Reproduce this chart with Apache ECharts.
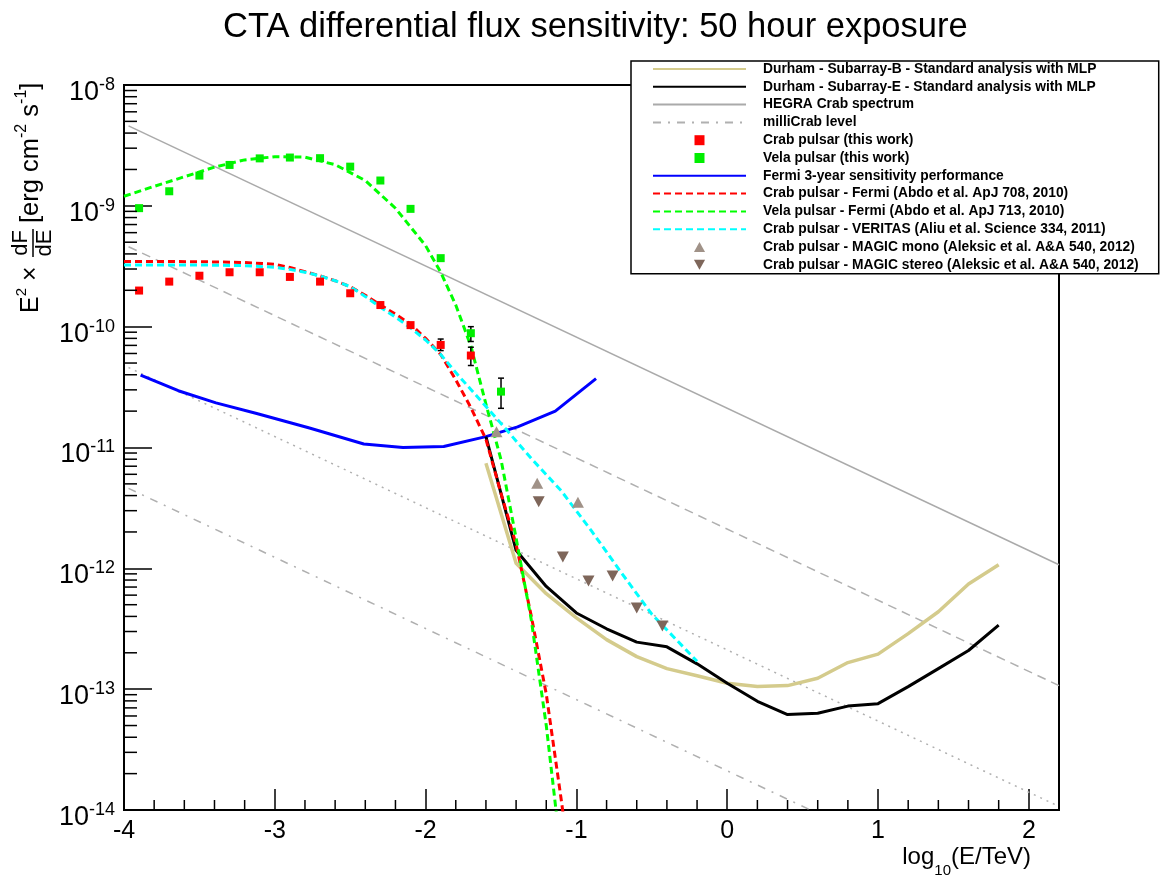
<!DOCTYPE html>
<html>
<head>
<meta charset="utf-8">
<title>CTA differential flux sensitivity</title>
<script src="https://cdn.jsdelivr.net/npm/echarts@6/dist/echarts.min.js"></script>
<style>
html, body { margin: 0; padding: 0; background: #fff; }
#main { width: 1168px; height: 882px; }
</style>
</head>
<body>
<div id="main"></div>
<script>
var FONT = "'Liberation Sans', Arial, Helvetica, sans-serif";

// x = log10(E/TeV), y = E^2 dF/dE [erg cm^-2 s^-1]
// Crab / Vela pulsar points (this work)
var pulsarX = [-3.9, -3.7, -3.5, -3.3, -3.1, -2.9, -2.7, -2.5, -2.3, -2.1, -1.9, -1.7];
var crabFlux = [1.99e-10, 2.36e-10, 2.64e-10, 2.82e-10, 2.82e-10, 2.58e-10, 2.36e-10, 1.89e-10, 1.51e-10, 1.03e-10, 7.06e-11, 5.77e-11];
var velaX = [-3.9, -3.7, -3.5, -3.3, -3.1, -2.9, -2.7, -2.5, -2.3, -2.1, -1.9, -1.7, -1.5];
var velaFlux = [9.57e-10, 1.32e-9, 1.78e-9, 2.18e-9, 2.47e-9, 2.51e-9, 2.48e-9, 2.11e-9, 1.62e-9, 9.44e-10, 3.69e-10, 8.83e-11, 2.90e-11];
// error bars
var crabErrX = [-1.9, -1.7];
var crabErrLo = [6.34e-11, 4.77e-11];
var crabErrHi = [7.90e-11, 6.76e-11];
var velaErrX = [-1.7, -1.5];
var velaErrLo = [7.54e-11, 2.11e-11];
var velaErrHi = [1.00e-10, 3.75e-11];

// Fermi / VERITAS spectra
var fermiCrabX = [-4.0, -3.5, -3.2, -3.0, -2.9, -2.8, -2.7, -2.6, -2.5, -2.4, -2.3, -2.2, -2.1, -2.0, -1.9, -1.8, -1.7, -1.6, -1.5, -1.4, -1.3, -1.2, -1.1, -1.07];
var fermiCrabFlux = [3.47e-10, 3.45e-10, 3.40e-10, 3.28e-10, 3.09e-10, 2.85e-10, 2.63e-10, 2.40e-10, 2.14e-10, 1.82e-10, 1.51e-10, 1.27e-10, 1.05e-10, 8.00e-11, 5.89e-11, 3.63e-11, 2.14e-11, 1.17e-11, 4.17e-12, 1.58e-12, 4.07e-13, 9.12e-14, 1.20e-14, 6.30e-15];
var fermiVelaX = [-4.0, -3.8, -3.6, -3.4, -3.2, -3.0, -2.8, -2.6, -2.4, -2.2, -2.0, -1.9, -1.8, -1.7, -1.6, -1.5, -1.4, -1.3, -1.2, -1.14, -1.1];
var fermiVelaFlux = [1.20e-9, 1.45e-9, 1.74e-9, 2.09e-9, 2.40e-9, 2.55e-9, 2.53e-9, 2.19e-9, 1.62e-9, 9.55e-10, 4.68e-10, 2.82e-10, 1.51e-10, 6.92e-11, 2.29e-11, 7.94e-12, 1.78e-12, 3.80e-13, 5.01e-14, 1.12e-14, 4.0e-15];
var veritasX = [-4.0, -3.5, -3.2, -3.0, -2.9, -2.8, -2.7, -2.6, -2.5, -2.4, -2.3, -2.2, -2.1, -2.0, -1.9, -1.8, -1.7, -1.5, -1.3, -1.1, -0.9, -0.7, -0.5, -0.2];
var veritasFlux = [3.24e-10, 3.24e-10, 3.20e-10, 3.10e-10, 2.98e-10, 2.82e-10, 2.63e-10, 2.40e-10, 2.14e-10, 1.78e-10, 1.45e-10, 1.20e-10, 9.77e-11, 7.76e-11, 5.89e-11, 4.17e-11, 3.02e-11, 1.58e-11, 8.13e-12, 4.37e-12, 2.04e-12, 9.12e-13, 4.17e-13, 1.70e-13];

// Fermi 3-year sensitivity
var fermiSensX = [-3.89, -3.64, -3.39, -3.12, -2.77, -2.41, -2.15, -1.88, -1.60, -1.39, -1.14, -0.87];
var fermiSensFlux = [3.98e-11, 2.95e-11, 2.34e-11, 1.91e-11, 1.45e-11, 1.07e-11, 1.00e-11, 1.02e-11, 1.23e-11, 1.48e-11, 2.00e-11, 3.72e-11];

// Durham sensitivities
var durhamX = [-1.6, -1.4, -1.2, -1.0, -0.8, -0.6, -0.4, -0.2, 0.0, 0.2, 0.4, 0.6, 0.8, 1.0, 1.2, 1.4, 1.6, 1.8];
var subBFlux = [7.41e-12, 1.10e-12, 6.17e-13, 3.89e-13, 2.57e-13, 1.86e-13, 1.48e-13, 1.29e-13, 1.12e-13, 1.05e-13, 1.07e-13, 1.23e-13, 1.66e-13, 1.95e-13, 2.88e-13, 4.37e-13, 7.41e-13, 1.07e-12];
var subEFlux = [1.23e-11, 1.41e-12, 7.08e-13, 4.27e-13, 3.16e-13, 2.45e-13, 2.24e-13, 1.62e-13, 1.12e-13, 7.94e-14, 6.17e-14, 6.31e-14, 7.24e-14, 7.59e-14, 1.05e-13, 1.48e-13, 2.09e-13, 3.39e-13];

// MAGIC
var monoX = [-1.53, -1.26, -0.99];
var monoFlux = [1.35e-11, 5.06e-12, 3.52e-12];
var stereoX = [-1.25, -1.09, -0.92, -0.76, -0.60, -0.43];
var stereoFlux = [3.56e-12, 1.24e-12, 7.87e-13, 8.65e-13, 4.70e-13, 3.33e-13];

// Crab reference levels (straight lines in log-log)
var crabRefX = [-3.97, 2.2];
var hegraFlux = [4.59e-9, 1.07e-12];
var tenthCrabFlux = [4.59e-10, 1.07e-13];
var hundredthCrabFlux = [4.59e-11, 1.07e-14];
var milliCrabFlux = [4.59e-12, 1.07e-15];

// axis ticks
var xMajorTicks = [-4, -3, -2, -1, 0, 1, 2];
var yDecades = [-14, -13, -12, -11, -10, -9, -8];

var SQUARE = 'path://M0,0L10,0L10,10L0,10Z';
var TRI_UP = 'path://M5,0L10,9L0,9Z';
var TRI_DOWN = 'path://M0,0L10,0L5,9Z';

function pts(xs, ys) {
    return xs.map(function (x, i) { return [x, ys[i]]; });
}
function errs(xs, lo, hi) {
    return xs.map(function (x, i) { return [x, lo[i], hi[i]]; });
}

var xMinor = [];
for (var i = 0; i < xMajorTicks.length - 1; i++) {
    for (var k = 1; k < 5; k++) xMinor.push([xMajorTicks[i] + k * 0.2, 1e-14]);
}
var yMinor = [];
for (var d = 0; d < yDecades.length - 1; d++) {
    for (var m = 2; m < 10; m++) yMinor.push([-4, m * Math.pow(10, yDecades[d])]);
}

function lineSeries(name, data, color, width, type, z) {
    return {
        name: name, type: 'line', data: data, symbol: 'none', z: z || 2,
        lineStyle: { color: color, width: width, type: type || 'solid', join: 'round' },
        itemStyle: { color: color }
    };
}

function renderErr(params, api) {
    var x = api.value(0);
    var lo = api.coord([x, api.value(1)]);
    var hi = api.coord([x, api.value(2)]);
    var st = { stroke: '#000', lineWidth: 1.5 };
    return {
        type: 'group', children: [
            { type: 'line', shape: { x1: lo[0], y1: lo[1], x2: hi[0], y2: hi[1] }, style: st },
            { type: 'line', shape: { x1: lo[0] - 3, y1: lo[1], x2: lo[0] + 3, y2: lo[1] }, style: st },
            { type: 'line', shape: { x1: hi[0] - 3, y1: hi[1], x2: hi[0] + 3, y2: hi[1] }, style: st }
        ]
    };
}
function renderXTick(params, api) {
    var p = api.coord([api.value(0), api.value(1)]);
    return { type: 'line', shape: { x1: p[0], y1: p[1], x2: p[0], y2: p[1] - 10 }, style: { stroke: '#000', lineWidth: 1.5 } };
}
function renderYTick(params, api) {
    var p = api.coord([api.value(0), api.value(1)]);
    return { type: 'line', shape: { x1: p[0], y1: p[1], x2: p[0] + 13, y2: p[1] }, style: { stroke: '#000', lineWidth: 1.5 } };
}

// legend: line entries hide the symbol the line legend icon adds
var noSymbol = { opacity: 0 };
var legendData = [
    { name: 'Durham - Subarray-B - Standard analysis with MLP', itemStyle: noSymbol },
    { name: 'Durham - Subarray-E - Standard analysis with MLP', itemStyle: noSymbol },
    { name: 'HEGRA Crab spectrum', itemStyle: noSymbol },
    { name: 'milliCrab level', itemStyle: noSymbol },
    { name: 'Crab pulsar (this work)' },
    { name: 'Vela pulsar (this work)' },
    { name: 'Fermi 3-year sensitivity performance', itemStyle: noSymbol },
    { name: 'Crab pulsar - Fermi (Abdo et al. ApJ 708, 2010)', itemStyle: noSymbol },
    { name: 'Vela pulsar - Fermi (Abdo et al. ApJ 713, 2010)', itemStyle: noSymbol },
    { name: 'Crab pulsar - VERITAS (Aliu et al. Science 334, 2011)', itemStyle: noSymbol },
    { name: 'Crab pulsar - MAGIC mono (Aleksic et al. A&A 540, 2012)' },
    { name: 'Crab pulsar - MAGIC stereo (Aleksic et al. A&A 540, 2012)' }
];

var chart = echarts.init(document.getElementById('main'));
var option = {
    animation: false,
    backgroundColor: '#fff',
    title: {
        text: 'CTA differential flux sensitivity: 50 hour exposure',
        left: 218,
        top: 5,
        textStyle: { fontFamily: FONT, fontSize: 34.5, fontWeight: 'normal', color: '#000' }
    },
    legend: {
        data: legendData,
        orient: 'vertical',
        left: 631,
        top: 61,
        align: 'left',
        itemWidth: 93,
        itemHeight: 10,
        itemGap: 3.8,
        padding: [1, 20, 2, 21],
        borderColor: '#000',
        borderWidth: 1.5,
        backgroundColor: '#fff',
        selectedMode: false,
        textStyle: { fontFamily: FONT, fontWeight: 'bold', fontSize: 13.8, lineHeight: 14, color: '#000', padding: [0, 0, 0, 12] }
    },
    grid: {
        left: 124, right: 109, top: 85, bottom: 72,
        show: true, borderColor: '#000', borderWidth: 2, backgroundColor: 'transparent'
    },
    xAxis: {
        type: 'value', min: -4, max: 2.2, interval: 1,
        axisLine: { onZero: false, lineStyle: { color: '#000', width: 2 } },
        axisTick: { inside: true, length: 21, lineStyle: { color: '#000', width: 1.5 } },
        splitLine: { show: false },
        axisLabel: { fontFamily: FONT, fontSize: 25, color: '#000', margin: 9, showMaxLabel: false }
    },
    yAxis: {
        type: 'log', logBase: 10, min: 1e-14, max: 1e-8,
        axisLine: { onZero: false, lineStyle: { color: '#000', width: 2 } },
        axisTick: { inside: true, length: 28, lineStyle: { color: '#000', width: 1.5 } },
        splitLine: { show: false },
        axisLabel: {
            margin: 9,
            formatter: function (v) {
                return '{b|10}{s|' + Math.round(Math.log10(v)) + '}';
            },
            rich: {
                b: { fontFamily: FONT, fontSize: 27, color: '#000', lineHeight: 28, verticalAlign: 'bottom' },
                s: { fontFamily: FONT, fontSize: 18, color: '#000', lineHeight: 42, verticalAlign: 'middle' }
            }
        }
    },
    graphic: [
        {
            type: 'group', x: 33, y: 197, rotation: Math.PI / 2,
            children: [
                {
                    type: 'text', x: -116, y: -11,
                    style: {
                        text: '{m|E}{s|2}{m| ×}', fill: '#000', align: 'left', verticalAlign: 'middle',
                        rich: {
                            m: { fontFamily: FONT, fontSize: 25, lineHeight: 26, verticalAlign: 'bottom' },
                            s: { fontFamily: FONT, fontSize: 15, lineHeight: 44, verticalAlign: 'middle' }
                        }
                    }
                },
                { type: 'text', x: -46, y: -12, style: { text: 'dF', fontFamily: FONT, fontSize: 22, fill: '#000', align: 'center', verticalAlign: 'middle' } },
                { type: 'text', x: -46, y: 12, style: { text: 'dE', fontFamily: FONT, fontSize: 22, fill: '#000', align: 'center', verticalAlign: 'middle' } },
                { type: 'line', shape: { x1: -60, y1: 0, x2: -32, y2: 0 }, style: { stroke: '#000', lineWidth: 1.5 } },
                {
                    type: 'text', x: -26, y: -11,
                    style: {
                        text: '{m|[erg cm}{s|-2}{m| s}{s|-1}{m|]}', fill: '#000', align: 'left', verticalAlign: 'middle',
                        rich: {
                            m: { fontFamily: FONT, fontSize: 25.5, lineHeight: 26, verticalAlign: 'bottom' },
                            s: { fontFamily: FONT, fontSize: 16, lineHeight: 44, verticalAlign: 'middle' }
                        }
                    }
                }
            ]
        },
        {
            type: 'text', right: 137, top: 845,
            style: {
                text: '{m|log}{s|10}{m|(E/TeV)}', fill: '#000',
                rich: {
                    m: { fontFamily: FONT, fontSize: 24, lineHeight: 26, verticalAlign: 'top' },
                    s: { fontFamily: FONT, fontSize: 15, lineHeight: 52, verticalAlign: 'middle' }
                }
            }
        }
    ],
    series: [
        lineSeries('HEGRA Crab spectrum', pts(crabRefX, hegraFlux), '#aaaaaa', 1.5),
        lineSeries('tenth Crab', pts(crabRefX, tenthCrabFlux), '#b0b0b0', 1.5, [9, 6]),
        lineSeries('hundredth Crab', pts(crabRefX, hundredthCrabFlux), '#b0b0b0', 1.5, [2, 5]),
        lineSeries('milliCrab level', pts(crabRefX, milliCrabFlux), '#b0b0b0', 1.5, [8, 7, 2, 7]),
        lineSeries('Fermi 3-year sensitivity performance', pts(fermiSensX, fermiSensFlux), '#0000ff', 3, 'solid', 3),
        lineSeries('Durham - Subarray-B - Standard analysis with MLP', pts(durhamX, subBFlux), '#d4cb8c', 3.5, 'solid', 3),
        lineSeries('Durham - Subarray-E - Standard analysis with MLP', pts(durhamX, subEFlux), '#000000', 3, 'solid', 3),
        lineSeries('Crab pulsar - Fermi (Abdo et al. ApJ 708, 2010)', pts(fermiCrabX, fermiCrabFlux), '#ff0000', 3, [7, 4], 4),
        lineSeries('Vela pulsar - Fermi (Abdo et al. ApJ 713, 2010)', pts(fermiVelaX, fermiVelaFlux), '#00ff00', 3, [7, 4], 4),
        lineSeries('Crab pulsar - VERITAS (Aliu et al. Science 334, 2011)', pts(veritasX, veritasFlux), '#00ffff', 3, [7, 4], 4),
        {
            name: 'crab errors', type: 'custom', renderItem: renderErr, data: errs(crabErrX, crabErrLo, crabErrHi),
            encode: { x: 0, y: [1, 2] }, z: 5, silent: true
        },
        {
            name: 'vela errors', type: 'custom', renderItem: renderErr, data: errs(velaErrX, velaErrLo, velaErrHi),
            encode: { x: 0, y: [1, 2] }, z: 5, silent: true
        },
        {
            name: 'Crab pulsar (this work)', type: 'scatter', data: pts(pulsarX, crabFlux),
            symbol: SQUARE, symbolSize: 8, itemStyle: { color: '#ff0000', opacity: 1 }, z: 6
        },
        {
            name: 'Vela pulsar (this work)', type: 'scatter', data: pts(velaX, velaFlux),
            symbol: SQUARE, symbolSize: 8, itemStyle: { color: '#00ee00', opacity: 1 }, z: 6
        },
        {
            name: 'Crab pulsar - MAGIC mono (Aleksic et al. A&A 540, 2012)', type: 'scatter', data: pts(monoX, monoFlux),
            symbol: TRI_UP, symbolSize: [12, 11], itemStyle: { color: '#a09288', opacity: 1 }, z: 6
        },
        {
            name: 'Crab pulsar - MAGIC stereo (Aleksic et al. A&A 540, 2012)', type: 'scatter', data: pts(stereoX, stereoFlux),
            symbol: TRI_DOWN, symbolSize: [12, 11], itemStyle: { color: '#7e665a', opacity: 1 }, z: 6
        },
        { name: 'x minor', type: 'custom', renderItem: renderXTick, data: xMinor, clip: false, silent: true, z: 10 },
        { name: 'y minor', type: 'custom', renderItem: renderYTick, data: yMinor, clip: false, silent: true, z: 10 }
    ]
};
chart.setOption(option);
</script>
</body>
</html>
